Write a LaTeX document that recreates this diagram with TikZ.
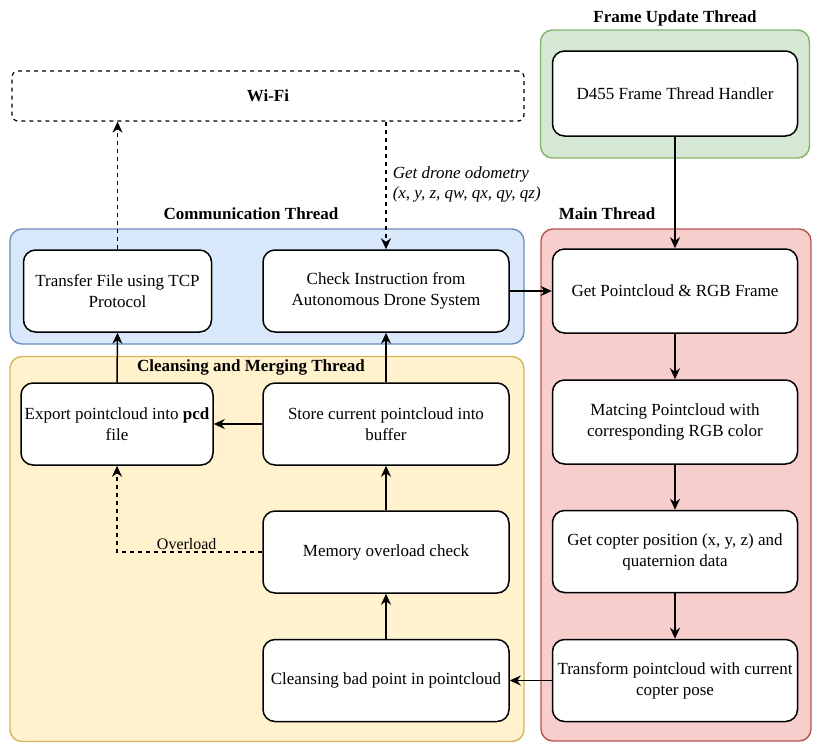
\documentclass[tikz,border=0pt]{standalone}
\usepackage{fontspec}
\setmainfont{Liberation Serif}
\usetikzlibrary{arrows.meta}

\definecolor{grpGreenFill}{HTML}{D5E8D4}
\definecolor{grpGreenLine}{HTML}{82B366}
\definecolor{grpBlueFill}{HTML}{DAE8FC}
\definecolor{grpBlueLine}{HTML}{6C8EBF}
\definecolor{grpRedFill}{HTML}{F8CECC}
\definecolor{grpRedLine}{HTML}{B85450}
\definecolor{grpYellowFill}{HTML}{FFF2CC}
\definecolor{grpYellowLine}{HTML}{D6B656}

\tikzset{
  grp/.style={draw, line width=1.4pt, rounded corners=12pt, inner sep=0pt},
  stepbox/.style={draw=black, fill=white, line width=1.5pt, rounded corners=12pt,
    inner sep=0pt, align=center, minimum width=246pt, minimum height=82pt,
    font=\fontsize{17}{21}\selectfont},
  grptitle/.style={font=\fontsize{17}{21}\selectfont\bfseries, inner sep=0pt},
  arr/.style={line width=1.5pt, -{Stealth[length=11pt,width=10pt,inset=3.5pt]}},
  darr/.style={arr, dash pattern=on 4pt off 4pt},
}

\begin{document}
\begin{tikzpicture}[x=1pt, y=-1pt]
  \useasboundingbox (0,0) rectangle (819,748);

  % thread containers
  \node[grp, fill=grpGreenFill, draw=grpGreenLine, minimum width=269pt, minimum height=128pt]
    (gframe) at (675,94) {};
  \node[grp, fill=grpBlueFill, draw=grpBlueLine, minimum width=514pt, minimum height=115pt]
    (gcomm) at (267,286.5) {};
  \node[grp, fill=grpYellowFill, draw=grpYellowLine, minimum width=514pt, minimum height=385pt]
    (gclean) at (267,549) {};
  \node[grp, fill=grpRedFill, draw=grpRedLine, minimum width=270pt, minimum height=512pt]
    (gmain) at (676,485) {};

  % container titles
  \node[grptitle] (tframe) at (675,18) {Frame Update Thread};
  \node[grptitle] (tcomm) at (251,214) {Communication Thread};
  \node[grptitle] (tmain) at (607,214) {Main Thread};
  \node[grptitle] (tclean) at (251,367) {Cleansing and Merging Thread};

  % network link
  \node[draw, line width=1.2pt, dash pattern=on 4pt off 4pt, rounded corners=6pt,
        minimum width=512pt, minimum height=50pt, inner sep=0pt,
        font=\fontsize{17}{21}\selectfont\bfseries] (wifi) at (268,96) {Wi-Fi};

  % frame update thread
  \node[stepbox, minimum width=245pt, minimum height=85pt] (d455) at (675,93.5)
    {D455 Frame Thread Handler};

  % communication thread
  \node[stepbox, minimum width=188pt] (transfer) at (117.5,291)
    {Transfer File using TCP\\Protocol};
  \node[stepbox] (check) at (386,291)
    {Check Instruction from\\Autonomous Drone System};

  % main thread
  \node[stepbox, minimum width=245pt, minimum height=84pt] (getpc) at (675,291)
    {Get Pointcloud \& RGB Frame};
  \node[stepbox, minimum width=245pt, minimum height=84pt] (match) at (675,422)
    {Matcing Pointcloud with\\corresponding RGB color};
  \node[stepbox, minimum width=245pt] (copter) at (675,551.5)
    {Get copter position (x, y, z) and\\quaternion data};
  \node[stepbox, minimum width=245pt] (transform) at (675,680.5)
    {Transform pointcloud with current\\copter pose};

  % cleansing and merging thread
  \node[stepbox, minimum width=192pt] (export) at (117,424)
    {Export pointcloud into \textbf{pcd}\\file};
  \node[stepbox] (store) at (386,424)
    {Store current pointcloud into\\buffer};
  \node[stepbox] (memory) at (386,552)
    {Memory overload check};
  \node[stepbox] (cleanse) at (386,680.5)
    {Cleansing bad point in pointcloud};

  % connectors
  \draw[darr] (transfer.north) -- (wifi.south -| transfer.north);
  \draw[darr] (wifi.south -| check.north) --
    node[pos=0.49, right, xshift=4pt, align=left, inner sep=2pt,
         font=\fontsize{17}{20}\selectfont\itshape] (odom)
    {Get drone odometry\\(x, y, z, qw, qx, qy, qz)} (check.north);
  \draw[arr] (check.east) -- (getpc.west);
  \draw[arr] (d455.south) -- (getpc.north);
  \draw[arr] (getpc.south) -- (match.north);
  \draw[arr] (match.south) -- (copter.north);
  \draw[arr] (copter.south) -- (transform.north);
  \draw[arr] (transform.west) -- (cleanse.east);
  \draw[arr] (cleanse.north) -- (memory.south);
  \draw[arr] (memory.north) -- (store.south);
  \draw[arr] (store.north) -- (check.south);
  \draw[arr] (store.west) -- (export.east);
  \draw[arr] (export.north) -- (transfer.south);
  \draw[darr] (memory.west) -|
    node[pos=0.26, above, inner sep=2pt, font=\fontsize{16}{19}\selectfont] (ovl) {Overload}
    (export.south);
\end{tikzpicture}
\end{document}
